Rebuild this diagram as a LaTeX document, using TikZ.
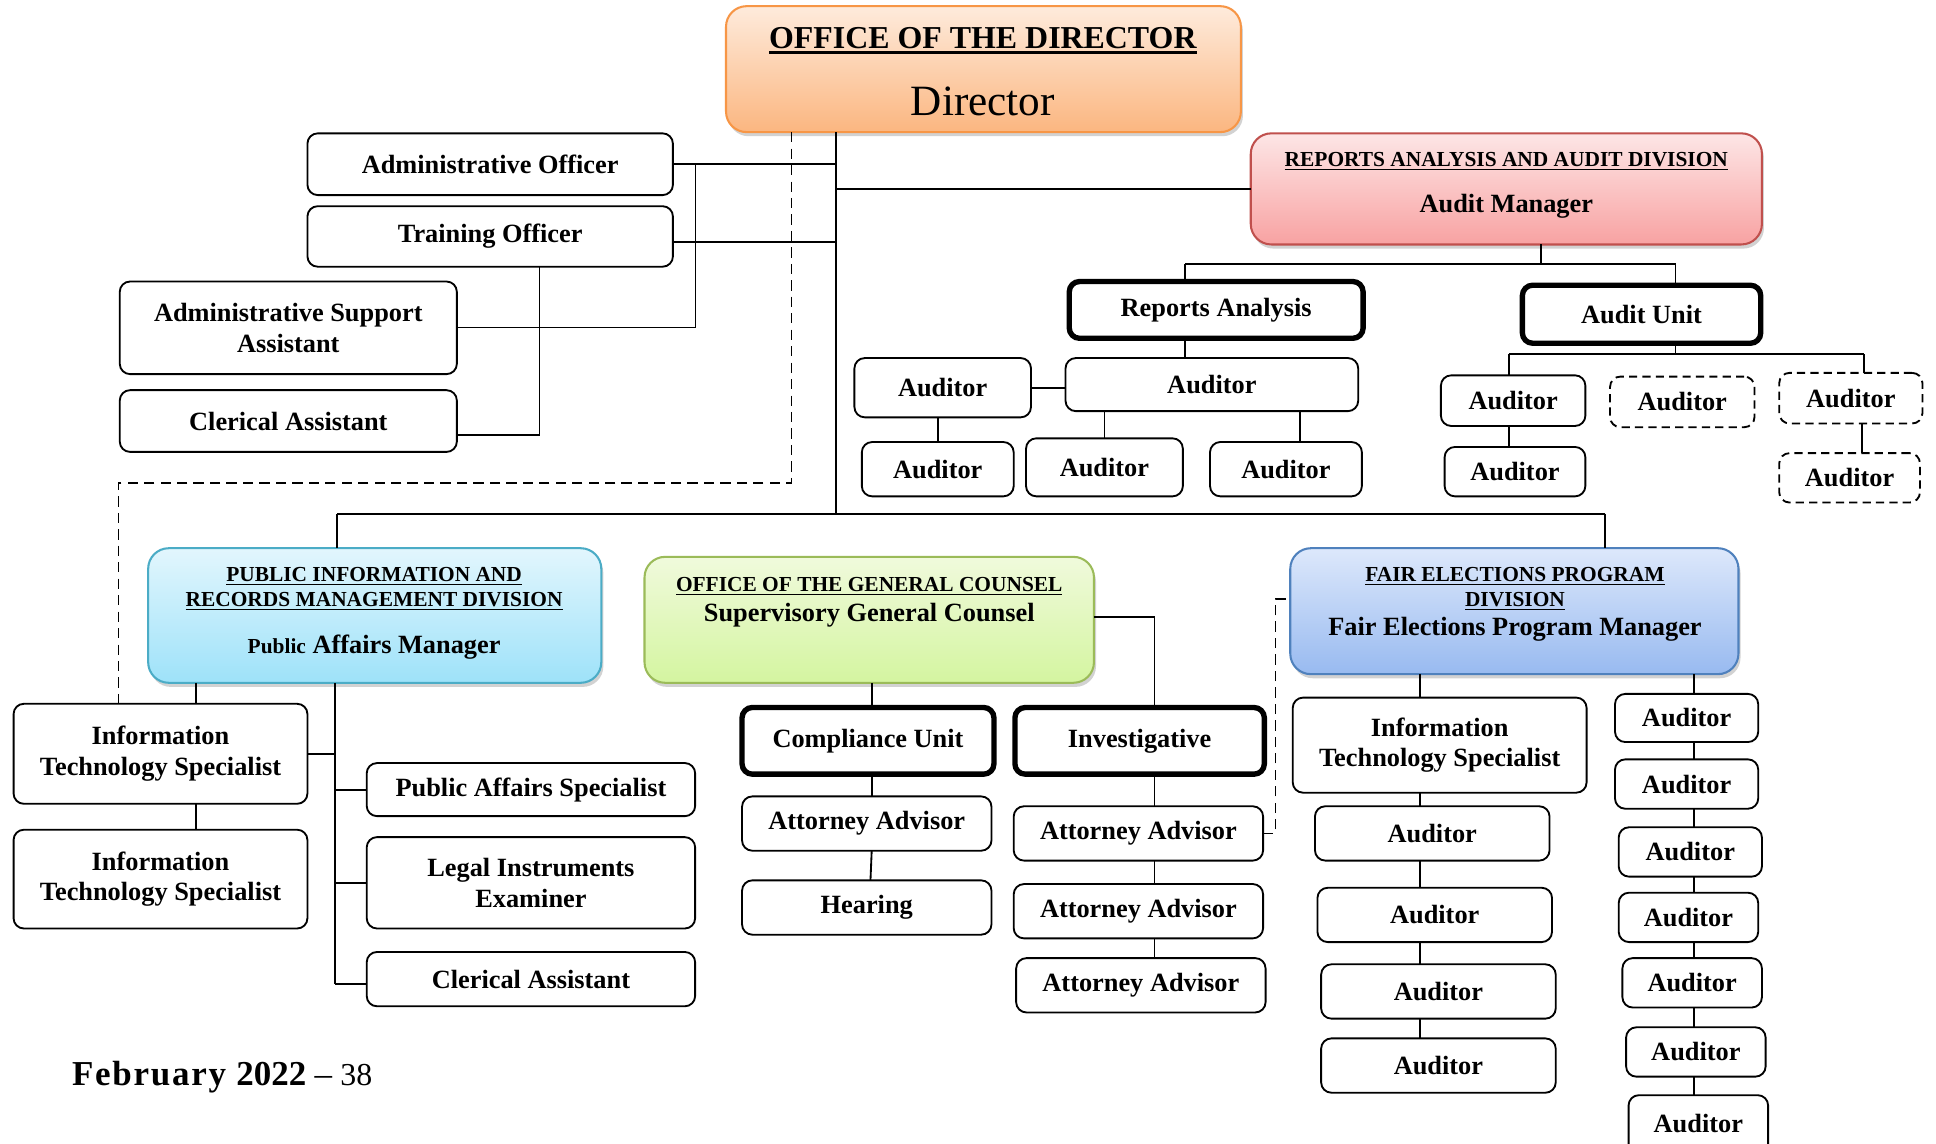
\documentclass[tikz,border=0pt]{standalone}
\usepackage{fontspec}
\setmainfont{Liberation Serif}
\usetikzlibrary{shadows}
\definecolor{dirtop}{HTML}{FEEBDC}
\definecolor{dirbot}{HTML}{FBB680}
\definecolor{dirbrd}{HTML}{F79646}
\definecolor{redtop}{HTML}{FDE6E6}
\definecolor{redbot}{HTML}{F8A2A2}
\definecolor{redbrd}{HTML}{C0504D}
\definecolor{cyantop}{HTML}{E2F6FD}
\definecolor{cyanbot}{HTML}{9EE2F9}
\definecolor{cyanbrd}{HTML}{4BACC6}
\definecolor{grntop}{HTML}{F0FADC}
\definecolor{grnbot}{HTML}{D4F5A0}
\definecolor{grnbrd}{HTML}{9BBB59}
\definecolor{blutop}{HTML}{DDE8FB}
\definecolor{blubot}{HTML}{98BAF0}
\definecolor{blubrd}{HTML}{4F81BD}
\newcommand{\boxfont}{\bfseries\fontsize{12.8}{15}\selectfont}
\newcommand{\hdrfont}{\bfseries\fontsize{10.4}{12}\selectfont}
\newcommand{\thickul}[1]{\setbox0\hbox{#1}\rlap{\rule[-2.6pt]{\wd0}{1.4pt}}\box0}
% \bx{style}{name}{x1}{y1}{x2}{y2}{text}
\newcommand{\bx}[7]{%
  \pgfmathsetmacro\bxw{(#5-#3)*0.6}%
  \pgfmathsetmacro\bxh{(#6-#4)*0.6}%
  \pgfmathsetmacro\bxcx{(#3+#5)/2}%
  \pgfmathsetmacro\bxcy{(#4+#6)/2}%
  \node[#1, minimum width=\bxw pt, minimum height=\bxh pt] (#2) at (\bxcx,\bxcy) {#7};}
\tikzset{
  conn/.style={line width=0.9pt},
  thinconn/.style={line width=0.6pt},
  dconn/.style={line width=0.9pt, dash pattern=on 5pt off 3pt},
  box/.style={draw, rounded corners=5pt, line width=0.9pt, fill=white, inner sep=0pt, outer sep=0pt, align=center, font=\boxfont},
  thickbox/.style={box, line width=2.6pt},
  dbox/.style={box, dash pattern=on 4pt off 2.5pt},
  divbox/.style={rounded corners=10pt, line width=1pt, inner sep=0pt, outer sep=0pt, drop shadow={shadow xshift=1pt, shadow yshift=-2pt, opacity=0.35}},
  hdr/.style={font=\hdrfont, inner sep=0pt, align=center},
  sub/.style={font=\boxfont, inner sep=0pt, align=center},
}
\begin{document}
\begin{tikzpicture}[x=0.6pt, y=-0.6pt]
\clip (0,0) rectangle (1568,926);
\fill[white] (0,0) rectangle (1568,926);

% ---------- Director ----------
\bx{divbox, draw=dirbrd, top color=dirtop, bottom color=dirbot}{dir}{588}{5}{1005}{107}{}
\node[inner sep=0pt, font=\bfseries\fontsize{15.5}{18}\selectfont] (dirT) at (796,33) {\thickul{OFFICE OF THE DIRECTOR}};
\node[inner sep=0pt, font=\fontsize{21}{24}\selectfont] (dirS) at (796,82) {Director};

% ---------- Reports Analysis and Audit Division ----------
\bx{divbox, draw=redbrd, top color=redtop, bottom color=redbot}{rad}{1013}{108}{1427}{198}{}
\node[hdr] (radT) at (1220,131) {\underline{REPORTS ANALYSIS AND AUDIT DIVISION}};
\node[sub] (radS) at (1220,167) {Audit Manager};

% ---------- Director staff ----------
\bx{box}{ao}{249}{108}{545}{158}{Administrative Officer}
\bx{box}{to}{249}{167}{545}{216}{Training Officer}
\bx{box}{asa}{97}{228}{370}{303}{Administrative Support\\Assistant}
\bx{box}{ca1}{97}{316}{370}{366}{Clerical Assistant}

% ---------- Reports analysis / Audit unit ----------
\bx{thickbox}{ra}{866}{228}{1104}{274}{Reports Analysis}
\bx{thickbox}{au}{1233}{231}{1426}{278}{Audit Unit}

\bx{box}{a1}{692}{290}{835}{338}{Auditor}
\bx{box}{a2}{863}{290}{1100}{333}{Auditor}
\bx{box}{a3}{698}{358}{821}{402}{Auditor}
\bx{box}{a4}{831}{355}{958}{402}{Auditor}
\bx{box}{a5}{980}{358}{1103}{402}{Auditor}

\bx{box}{b1}{1167}{304}{1284}{345}{Auditor}
\bx{dbox}{b2}{1304}{305}{1421}{346}{Auditor}
\bx{dbox}{b3}{1441}{302}{1557}{343}{Auditor}
\bx{box}{b4}{1170}{362}{1284}{402}{Auditor}
\bx{dbox}{b5}{1441}{367}{1555}{407}{Auditor}

% ---------- Public Information ----------
\bx{divbox, draw=cyanbrd, top color=cyantop, bottom color=cyanbot}{pi}{120}{444}{487}{553}{}
\node[hdr] (piT) at (303,477) {\underline{PUBLIC INFORMATION AND}\\\underline{RECORDS MANAGEMENT DIVISION}};
\node[sub] (piS) at (303,524) {{\fontsize{10.4}{12}\selectfont Public} Affairs Manager};

\bx{box}{it1}{11}{570}{249}{651}{Information\\Technology Specialist}
\bx{box}{it2}{11}{672}{249}{752}{Information\\Technology Specialist}
\bx{box}{pas}{297}{618}{563}{661}{Public Affairs Specialist}
\bx{box}{lie}{297}{678}{563}{752}{Legal Instruments\\Examiner}
\bx{box}{ca2}{297}{771}{563}{815}{Clerical Assistant}

% ---------- General Counsel ----------
\bx{divbox, draw=grnbrd, top color=grntop, bottom color=grnbot}{gc}{522}{451}{886}{553}{}
\node[hdr] (gcT) at (704,475) {\underline{OFFICE OF THE GENERAL COUNSEL}};
\node[sub] (gcS) at (704,498) {Supervisory General Counsel};

\bx{thickbox}{cu}{601}{573}{805}{627}{Compliance Unit}
\bx{thickbox}{inv}{822}{573}{1024}{627}{Investigative}
\bx{box}{aa1}{601}{645}{803}{689}{Attorney Advisor}
\bx{box}{hr}{601}{713}{803}{757}{Hearing}
\bx{box}{aa2}{821}{653}{1023}{697}{Attorney Advisor}
\bx{box}{aa3}{821}{716}{1023}{760}{Attorney Advisor}
\bx{box}{aa4}{823}{776}{1025}{820}{Attorney Advisor}

% ---------- Fair Elections ----------
\bx{divbox, draw=blubrd, top color=blutop, bottom color=blubot}{fe}{1045}{444}{1408}{546}{}
\node[hdr] (feT) at (1227,477) {\underline{FAIR ELECTIONS PROGRAM}\\\underline{DIVISION}};
\node[sub] (feS) at (1227,510) {Fair Elections Program Manager};

\bx{box}{it3}{1047}{565}{1285}{642}{Information\\Technology Specialist}
\bx{box}{c1}{1065}{653}{1255}{697}{Auditor}
\bx{box}{c2}{1067}{719}{1257}{763}{Auditor}
\bx{box}{c3}{1070}{781}{1260}{825}{Auditor}
\bx{box}{c4}{1070}{841}{1260}{885}{Auditor}

\bx{box}{d1}{1308}{562}{1424}{601}{Auditor}
\bx{box}{d2}{1308}{615}{1424}{655}{Auditor}
\bx{box}{d3}{1311}{670}{1427}{710}{Auditor}
\bx{box}{d4}{1311}{723}{1424}{763}{Auditor}
\bx{box}{d5}{1314}{776}{1427}{816}{Auditor}
\bx{box}{d6}{1317}{832}{1430}{872}{Auditor}
\bx{box}{d7}{1319}{887}{1432}{945}{\raisebox{7pt}{Auditor}}

% ---------- Footer ----------
\node[anchor=base west, inner sep=0pt] (foot) at (58,879) {\bfseries\fontsize{17}{20}\selectfont{\addfontfeatures{LetterSpace=5}February}\hspace{5pt}2022\hspace{4pt}\mdseries–\hspace{4pt}{\fontsize{15.5}{18}\selectfont 38}};

% ---------- coordinates ----------
\coordinate (trunk) at (677,107);
\coordinate (bus) at (677,416);
\coordinate (busL) at (273,416);
\coordinate (busR) at (1300,416);
\coordinate (asaV) at (563,132);
\coordinate (toV) at (437,352);
\coordinate (toJ) at (545,196);
\coordinate (dashA) at (641,391);
\coordinate (dashB) at (96,391);
\coordinate (radJ) at (1248,214);
\coordinate (radL) at (960,214);
\coordinate (radR) at (1357,214);
\coordinate (auJ) at (1357,287);
\coordinate (auL) at (1222,287);
\coordinate (auR) at (1510,287);
\coordinate (piV) at (271,797);
\coordinate (gcR) at (935,500);
\coordinate (feD) at (1033,485);

% ---------- connectors ----------
\draw[conn] (dir.south -| trunk) -- (bus);
\draw[conn] (ao.east) -- (ao.east -| trunk);
\draw[conn] (to.east |- toJ) -- (toJ -| trunk);
\draw[conn] (rad.west -| trunk) -- (rad.west);
\draw[thinconn] (ao.east -| asaV) -- (asa.east -| asaV) -- (asa.east);
\draw[conn] (to.south -| toV) -- (toV) -- (toV -| ca1.east);
\draw[dconn] (dir.south -| dashA) -- (dashA) -- (dashB) -- (it1.north -| dashB);

\draw[conn] (busL) -- (busR);
\draw[conn] (busL) -- (pi.north -| busL);
\draw[conn] (busR) -- (fe.north -| busR);

\draw[conn] (rad.south -| radJ) -- (radJ);
\draw[conn] (radL) -- (radR);
\draw[conn] (radL) -- (ra.north -| radL);
\draw[conn] (radR) -- (au.north -| radR);
\draw[conn] (ra.south -| radL) -- (a2.north -| radL);
\draw[conn] (a1.east) -- (a1.east -| a2.west);
\draw[conn] (a1.south -| a3.north) -- (a3.north);
\draw[conn] (a2.south -| a4.north) -- (a4.north);
\draw[conn] (a2.south -| 1053,0) -- (a5.north -| 1053,0);

\draw[conn] (au.south -| auJ) -- (auJ);
\draw[conn] (auL) -- (auR);
\draw[conn] (auL) -- (b1.north -| auL);
\draw[conn] (auR) -- (b3.north -| auR);
\draw[conn] (b1.south -| auL) -- (b4.north -| auL);
\draw[conn] (b3.south -| 1508,0) -- (b5.north -| 1508,0);

\draw[conn] (pi.south -| 159,0) -- (it1.north -| 159,0);
\draw[conn] (it1.south -| 159,0) -- (it2.north -| 159,0);
\draw[conn] (pi.south -| piV) -- (piV);
\draw[conn] (it1.east) -- (it1.east -| piV);
\draw[conn] (pas.west -| piV) -- (pas.west);
\draw[conn] (lie.west -| piV) -- (lie.west);
\draw[conn] (piV) -- (piV -| ca2.west);

\draw[conn] (gc.south -| 706,0) -- (cu.north -| 706,0);
\draw[conn] (gc.east |- gcR) -- (gcR) -- (inv.north -| gcR);
\draw[conn] (cu.south -| 706,0) -- (aa1.north -| 706,0);
\draw[conn] (aa1.south -| 706,0) -- (hr.north -| 705,0);
\draw[conn] (inv.south -| gcR) -- (aa2.north -| gcR);
\draw[conn] (aa2.south -| gcR) -- (aa3.north -| gcR);
\draw[conn] (aa3.south -| gcR) -- (aa4.north -| gcR);
\draw[dconn] (aa2.east) -- (aa2.east -| feD) -- (feD) -- (feD -| fe.west);

\draw[conn] (fe.south -| 1150,0) -- (it3.north -| 1150,0);
\draw[conn] (it3.south -| 1150,0) -- (c1.north -| 1150,0);
\draw[conn] (c1.south -| 1150,0) -- (c2.north -| 1150,0);
\draw[conn] (c2.south -| 1150,0) -- (c3.north -| 1150,0);
\draw[conn] (c3.south -| 1150,0) -- (c4.north -| 1150,0);
\draw[conn] (fe.south -| 1372,0) -- (d1.north -| 1372,0);
\draw[conn] (d1.south -| 1372,0) -- (d2.north -| 1372,0);
\draw[conn] (d2.south -| 1372,0) -- (d3.north -| 1372,0);
\draw[conn] (d3.south -| 1372,0) -- (d4.north -| 1372,0);
\draw[conn] (d4.south -| 1372,0) -- (d5.north -| 1372,0);
\draw[conn] (d5.south -| 1372,0) -- (d6.north -| 1372,0);
\draw[conn] (d6.south -| 1372,0) -- (d7.north -| 1372,0);
\end{tikzpicture}
\end{document}
